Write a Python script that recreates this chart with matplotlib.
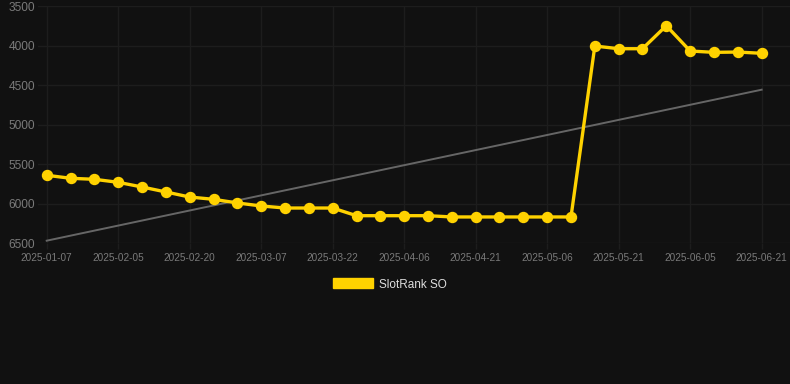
import matplotlib
matplotlib.use("Agg")
import matplotlib.pyplot as plt
from matplotlib.patches import Patch

dates = ["2025-01-07", "2025-01-17", "2025-01-27", "2025-02-05", "2025-02-10",
         "2025-02-15", "2025-02-20", "2025-02-25", "2025-03-02", "2025-03-07",
         "2025-03-12", "2025-03-17", "2025-03-22", "2025-03-27", "2025-04-01",
         "2025-04-06", "2025-04-11", "2025-04-16", "2025-04-21", "2025-04-26",
         "2025-05-01", "2025-05-06", "2025-05-11", "2025-05-16", "2025-05-21",
         "2025-05-26", "2025-05-31", "2025-06-05", "2025-06-10", "2025-06-15",
         "2025-06-21"]
ranks = [5640, 5678, 5691, 5729, 5788, 5851, 5915, 5944, 5990, 6028,
         6054, 6054, 6054, 6151, 6151, 6151, 6151, 6167, 6167, 6167,
         6167, 6167, 6167, 4006, 4040, 4040, 3749, 4069, 4086, 4082,
         4098]
trend_ends = [6467, 4558]
series_name = "SlotRank SO"
yticks = [3500, 4000, 4500, 5000, 5500, 6000, 6500]

plt.rcParams['font.family'] = ['Liberation Sans', 'DejaVu Sans']

BG = "#111111"
GOLD = "#FFD200"

fig = plt.figure(figsize=(7.9, 3.84), dpi=100, facecolor=BG)
ax = fig.add_axes([38/790, 1-243.3/384, 752/790, (243.3-6)/384])
ax.set_facecolor(BG)

x = list(range(len(dates)))
ax.plot([x[0], x[-1]], trend_ends, color="#666666", lw=1.4, zorder=2)
ax.plot(x, ranks, color=GOLD, lw=2.4, marker="o", ms=7.2, mec=GOLD, mfc=GOLD, zorder=3)

ax.set_ylim(6500, 3500)
ax.set_yticks(yticks)
ax.set_xlim(-0.365, 31.19)
tick_idx = x[::3]
ax.set_xticks(tick_idx)
ax.set_xticklabels([dates[i] for i in tick_idx])

ax.grid(True, color="#1d1d1d", lw=1)
ax.set_axisbelow(True)
for s in ax.spines.values():
    s.set_visible(False)
ax.tick_params(axis='y', length=0, pad=2, labelsize=8.6, labelcolor="#7a7a7a")
ax.tick_params(axis='x', length=4, color="#1d1d1d", width=1, pad=3, labelsize=7.2, labelcolor="#7a7a7a")

handle = Patch(facecolor=GOLD, edgecolor=GOLD, label=series_name)
fig.legend(handles=[handle], loc="center", bbox_to_anchor=(390/790, 1-284.5/384),
           frameon=False, fontsize=8.5, labelcolor="#dddddd",
           handlelength=3.4, handleheight=0.93, handletextpad=0.55)

fig.savefig("out.png", dpi=100, facecolor=BG)
